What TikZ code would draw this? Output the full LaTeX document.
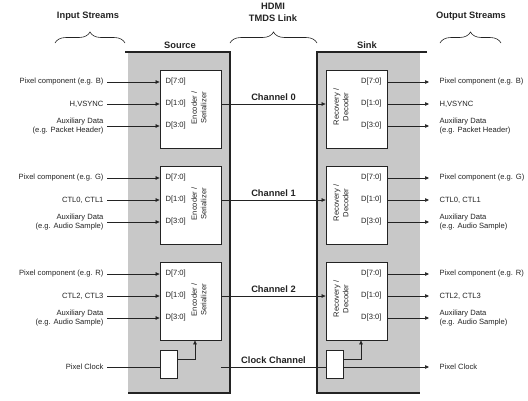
\documentclass[tikz,border=0pt]{standalone}
\usepackage{fontspec}
\setmainfont{Liberation Sans}
\usepackage{tikz}
\usetikzlibrary{calc, arrows.meta, decorations.pathreplacing}
\definecolor{panel}{RGB}{200, 200, 200}
\definecolor{ink}{RGB}{35, 35, 35}
\tikzset{
  codec/.style={draw=ink, fill=white, line width=0.8pt, minimum width=61pt,
                minimum height=78pt, inner sep=0pt},
  clockbox/.style={draw=ink, fill=white, line width=0.8pt, minimum width=17pt,
                   minimum height=28pt, inner sep=0pt},
  arr/.style={-{Triangle[length=4pt, width=3.5pt]}, line width=0.6pt},
  wire/.style={line width=0.6pt},
  head/.style={font=\fontsize{9.3}{12}\selectfont\bfseries},
  brace/.style={decorate, decoration={brace, amplitude=11pt}, line width=0.6pt}
}

\begin{document}
\begin{tikzpicture}[x=1pt, y=-1pt, font=\fontsize{7.6}{9.5}\selectfont, color=ink]

  \useasboundingbox (0, 0) rectangle (528, 400);

  \fill[panel] (128, 52) rectangle (230, 393);
  \fill[panel] (317, 52) rectangle (420, 393);
  \draw[line width=1.2pt] (125, 52) -- (230, 52) -- (230, 393) -- (128, 393);
  \draw[line width=1.2pt] (427, 52) -- (317, 52) -- (317, 393) -- (420, 393);

  \node[head] (instreams) at (88, 16) {Input Streams};
  \node[head, align=center] (hdmi) at (273, 12) {HDMI\\TMDS Link};
  \node[head] (outstreams) at (471, 16) {Output Streams};
  \node[head] (source) at (180, 45) {Source};
  \node[head] (sink) at (367, 45) {Sink};

  \draw[brace] (55, 43) -- (125, 43);
  \draw[brace] (230, 43) -- (317, 43);
  \draw[brace] (440, 43) -- (501, 43);

  \foreach \dy/\n/\pix/\ctl/\aux in {0/0/B/{H,VSYNC}/Packet Header,
                                      96/1/G/{CTL0, CTL1}/Audio Sample,
                                      192/2/R/{CTL2, CTL3}/Audio Sample} {
    \begin{scope}[shift={(0, \dy)}]
      \node[codec] (enc\n) at (190.5, 109) {};
      \node[codec] (dec\n) at (356.5, 109) {};
      \node[rotate=90, align=center] (enclbl\n) at (199, 108) {Encoder /\\Serializer};
      \node[rotate=90, align=center] (declbl\n) at (341, 107) {Recovery /\\Decoder};

      \node[anchor=east] (pix\n) at (107, 82) {Pixel component (e.g. \pix)};
      \node[anchor=east] (ctl\n) at (107, 104) {\ctl};
      \node[anchor=east, align=right] (aux\n) at (107, 126) {Auxiliary Data\\(e.g. \aux)};

      \node[anchor=west] (sda\n) at (162, 82) {D[7:0]};
      \node[anchor=west] (sdb\n) at (162, 104) {D[1:0]};
      \node[anchor=west] (sdc\n) at (162, 126) {D[3:0]};
      \node[anchor=east] (kda\n) at (385, 82) {D[7:0]};
      \node[anchor=east] (kdb\n) at (385, 104) {D[1:0]};
      \node[anchor=east] (kdc\n) at (385, 126) {D[3:0]};

      \node[anchor=west] (opix\n) at (436, 82) {Pixel component (e.g. \pix)};
      \node[anchor=west] (octl\n) at (436, 104) {\ctl};
      \node[anchor=west, align=left] (oaux\n) at (436, 126) {Auxiliary Data\\(e.g. \aux)};

      \draw[arr] (pix\n.east) -- (pix\n.east -| enc\n.west);
      \draw[arr] (ctl\n.east) -- (ctl\n.east -| enc\n.west);
      \draw[arr] (aux\n.east) -- (aux\n.east -| enc\n.west);

      \draw[arr] (sdb\n -| enc\n.east) -- (sdb\n -| dec\n.west);
      \node[head] (chan\n) at (273.5, 97) {Channel \n};

      \draw[arr, shorten >=7pt] (kda\n -| dec\n.east) -- (opix\n.west);
      \draw[arr, shorten >=7pt] (kdb\n -| dec\n.east) -- (octl\n.west);
      \draw[arr, shorten >=7pt] (kdc\n -| dec\n.east) -- (oaux\n.west);
    \end{scope}
  }

  \node[clockbox] (sclk) at (168.5, 364) {};
  \node[clockbox] (kclk) at (334.5, 364) {};
  \node[anchor=east] (pclkin) at (107, 367) {Pixel Clock};
  \node[anchor=west] (pclkout) at (436, 367) {Pixel Clock};
  \node[head] (clkchan) at (273.5, 360) {Clock Channel};

  \draw[wire] (pclkin.east) -- (pclkin.east -| sclk.west);
  \draw[arr] ([yshift=5pt]sclk.east) -| ([xshift=4.5pt]enc2.south);
  \draw[wire] (pclkin.east -| enc2.east) -- (pclkin.east -| kclk.west);
  \draw[arr] ([yshift=5pt]kclk.east) -| ([xshift=4.5pt]dec2.south);
  \draw[arr, shorten >=7pt] (pclkin.east -| kclk.east) -- (pclkout.west);

\end{tikzpicture}
\end{document}
